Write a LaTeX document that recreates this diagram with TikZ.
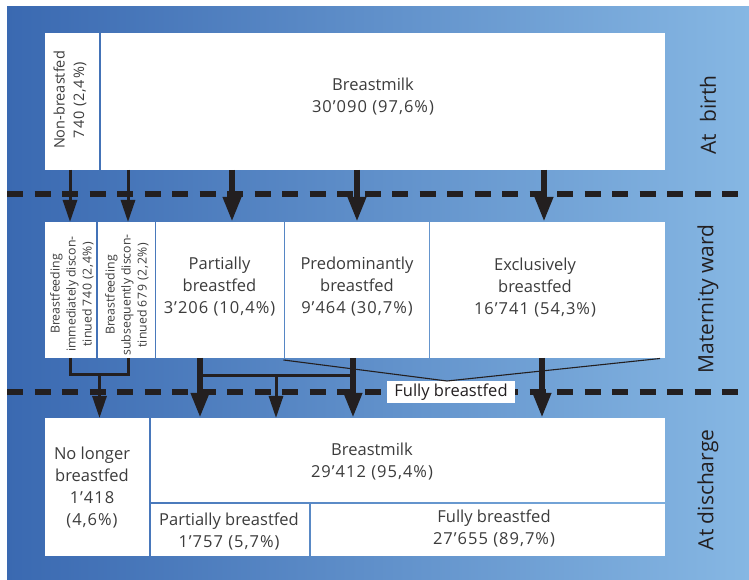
\documentclass[tikz,border=0pt]{standalone}
\usepackage{fontspec}
\setmainfont{Open Sans}
\usetikzlibrary{arrows.meta}
\definecolor{bgL}{RGB}{58,105,177}
\definecolor{bgR}{RGB}{134,183,227}
\definecolor{ink}{RGB}{35,31,32}
\definecolor{txt}{RGB}{60,60,60}
\newcommand\numsp[1]{{\addfontfeature{LetterSpace=6}#1}}
\tikzset{
  wbox/.style={fill=white, draw=none, inner sep=0pt, outer sep=0pt},
  bigtxt/.style={text=txt, align=center, inner sep=0pt, font=\fontsize{16.5}{22}\selectfont},
  midtxt/.style={text=txt, align=center, inner sep=0pt, rotate=90, font=\fontsize{14.5}{19.5}\selectfont},
  smalltxt/.style={text=txt, align=center, inner sep=0pt, rotate=90, font=\fontsize{12.3}{16}\selectfont},
  sidetxt/.style={text=ink, inner sep=0pt, rotate=90, font=\fontsize{21}{25}\selectfont},
  dashline/.style={draw=ink, line width=5.5pt, dash pattern=on 16pt off 11.5pt},
  thinarr/.style={draw=ink, line width=3pt, -{Triangle[length=22pt,width=14pt]}},
  thickarr/.style={draw=ink, line width=6.5pt, -{Triangle[length=25pt,width=17pt]}},
  joinline/.style={draw=ink, line width=3pt},
  vline/.style={draw=ink, line width=1.1pt},
}
\begin{document}
\begin{tikzpicture}[x=1pt,y=1pt]
\useasboundingbox (0,0) rectangle (749,580);
\fill[white] (0,0) rectangle (749,580);
\shade[left color=bgL, right color=bgR] (7,0) rectangle (749,573);

% arrow x positions
\coordinate (x1) at (70,0);
\coordinate (x2) at (128,0);
\coordinate (x3) at (232,0);
\coordinate (x4) at (357,0);
\coordinate (x5) at (544,0);
\coordinate (x6) at (200,0);
\coordinate (x7) at (353,0);
\coordinate (x8) at (276,0);
\coordinate (x9) at (542,0);
\coordinate (hy) at (0,204);
\coordinate (bj) at (99.5,205);
\coordinate (vx) at (447,0);

% top row
\node[wbox, minimum width=54pt, minimum height=137pt] (nb) at (72,478.5) {};
\node[wbox, minimum width=564.5pt, minimum height=137pt] (bm) at (382.75,478.5) {};
% middle row
\node[wbox, minimum width=51pt, minimum height=136pt] (A) at (70.5,290) {};
\node[wbox, minimum width=57pt, minimum height=136pt] (B) at (126,290) {};
\node[wbox, minimum width=127.5pt, minimum height=136pt] (C) at (219.75,290) {};
\node[wbox, minimum width=143.5pt, minimum height=136pt] (D) at (356.75,290) {};
\node[wbox, minimum width=235pt, minimum height=136pt] (E) at (547.5,290) {};
% bottom row
\node[wbox, minimum width=104.25pt, minimum height=138pt] (L) at (97.125,93) {};
\node[wbox, minimum width=514.25pt, minimum height=84.25pt] (R1) at (407.875,119.875) {};
\node[wbox, minimum width=158.5pt, minimum height=52.25pt] (R2a) at (230,50.125) {};
\node[wbox, minimum width=354.25pt, minimum height=52.25pt] (R2b) at (487.875,50.125) {};

% dashed separators
\coordinate (d1l) at (7,386);
\coordinate (d1r) at (749,386);
\coordinate (d2l) at (7,188);
\coordinate (d2r) at (749,188);
\draw[dashline] (d1l) -- (d1r);
\draw[dashline] (d2l) -- (d2r);

% fully breastfed bracket
\coordinate (vl) at (283.5,220);
\coordinate (vr) at (660,221.5);
\node[wbox, minimum width=128pt, minimum height=22pt] (fb) at (451,188) {};
\draw[vline] (vl) -- (fb.north -| vx) -- (vr);
\node[text=ink, inner sep=0pt, font=\fontsize{16.5}{20}\selectfont] (fbt) at (451,188) {Fully breastfed};

% arrows top -> middle
\draw[thinarr] (nb.south -| x1) -- (A.north -| x1);
\draw[thinarr] (bm.south -| x2) -- (B.north -| x2);
\draw[thickarr] (bm.south -| x3) -- (C.north -| x3);
\draw[thickarr] (bm.south -| x4) -- (D.north -| x4);
\draw[thickarr] (bm.south -| x5) -- (E.north -| x5);

% arrows middle -> bottom
\draw[joinline] (A.south -| x1) |- (bj) -| (B.south -| x2);
\draw[thinarr] (bj) -- (L.north -| bj);
\draw[joinline] (x6 |- hy) -- (x7 |- hy);
\draw[thickarr] (C.south -| x6) -- (R1.north -| x6);
\draw[thinarr] (x8 |- hy) -- (R1.north -| x8);
\draw[thickarr] (D.south -| x7) -- (R1.north -| x7);
\draw[thickarr] (E.south -| x9) -- (R1.north -| x9);

% texts
\node[midtxt] (tnb) at (70,480) {Non-breastfed\\\numsp{740 (2,4\%)}};
\node[bigtxt] (tbm) at (373,483.5) {Breastmilk\\\numsp{30’090 (97,6\%)}};
\node[smalltxt] (tA) at (72,286) {Breastfeeding\\immediately discon-\\tinued \numsp{740 (2,4\%)}};
\node[smalltxt] (tB) at (127,285) {Breastfeeding\\subsequently discon-\\tinued \numsp{679 (2,2\%)}};
\node[bigtxt] (tC) at (219.5,293) {Partially\\breastfed\\\numsp{3’206 (10,4\%)}};
\node[bigtxt] (tD) at (357,293) {Predominantly\\breastfed\\\numsp{9’464 (30,7\%)}};
\node[bigtxt] (tE) at (535,292) {Exclusively\\breastfed\\\numsp{16’741 (54,3\%)}};
\node[bigtxt] (tL) at (92,92.5) {No longer\\breastfed\\\numsp{1’418}\\\numsp{(4,6\%)}};
\node[bigtxt] (tR1) at (372,118) {Breastmilk\\\numsp{29’412 (95,4\%)}};
\node[bigtxt] (tR2a) at (229,48.5) {Partially breastfed\\\numsp{1’757 (5,7\%)}};
\node[bigtxt] (tR2b) at (494,51.5) {Fully breastfed\\\numsp{27’655 (89,7\%)}};

% side labels
\node[sidetxt] (s1) at (708,465) {At\hspace{0.55em}birth};
\node[sidetxt] (s2) at (708,281) {Maternity ward};
\node[sidetxt] (s3) at (708,90) {At discharge};
\end{tikzpicture}
\end{document}
